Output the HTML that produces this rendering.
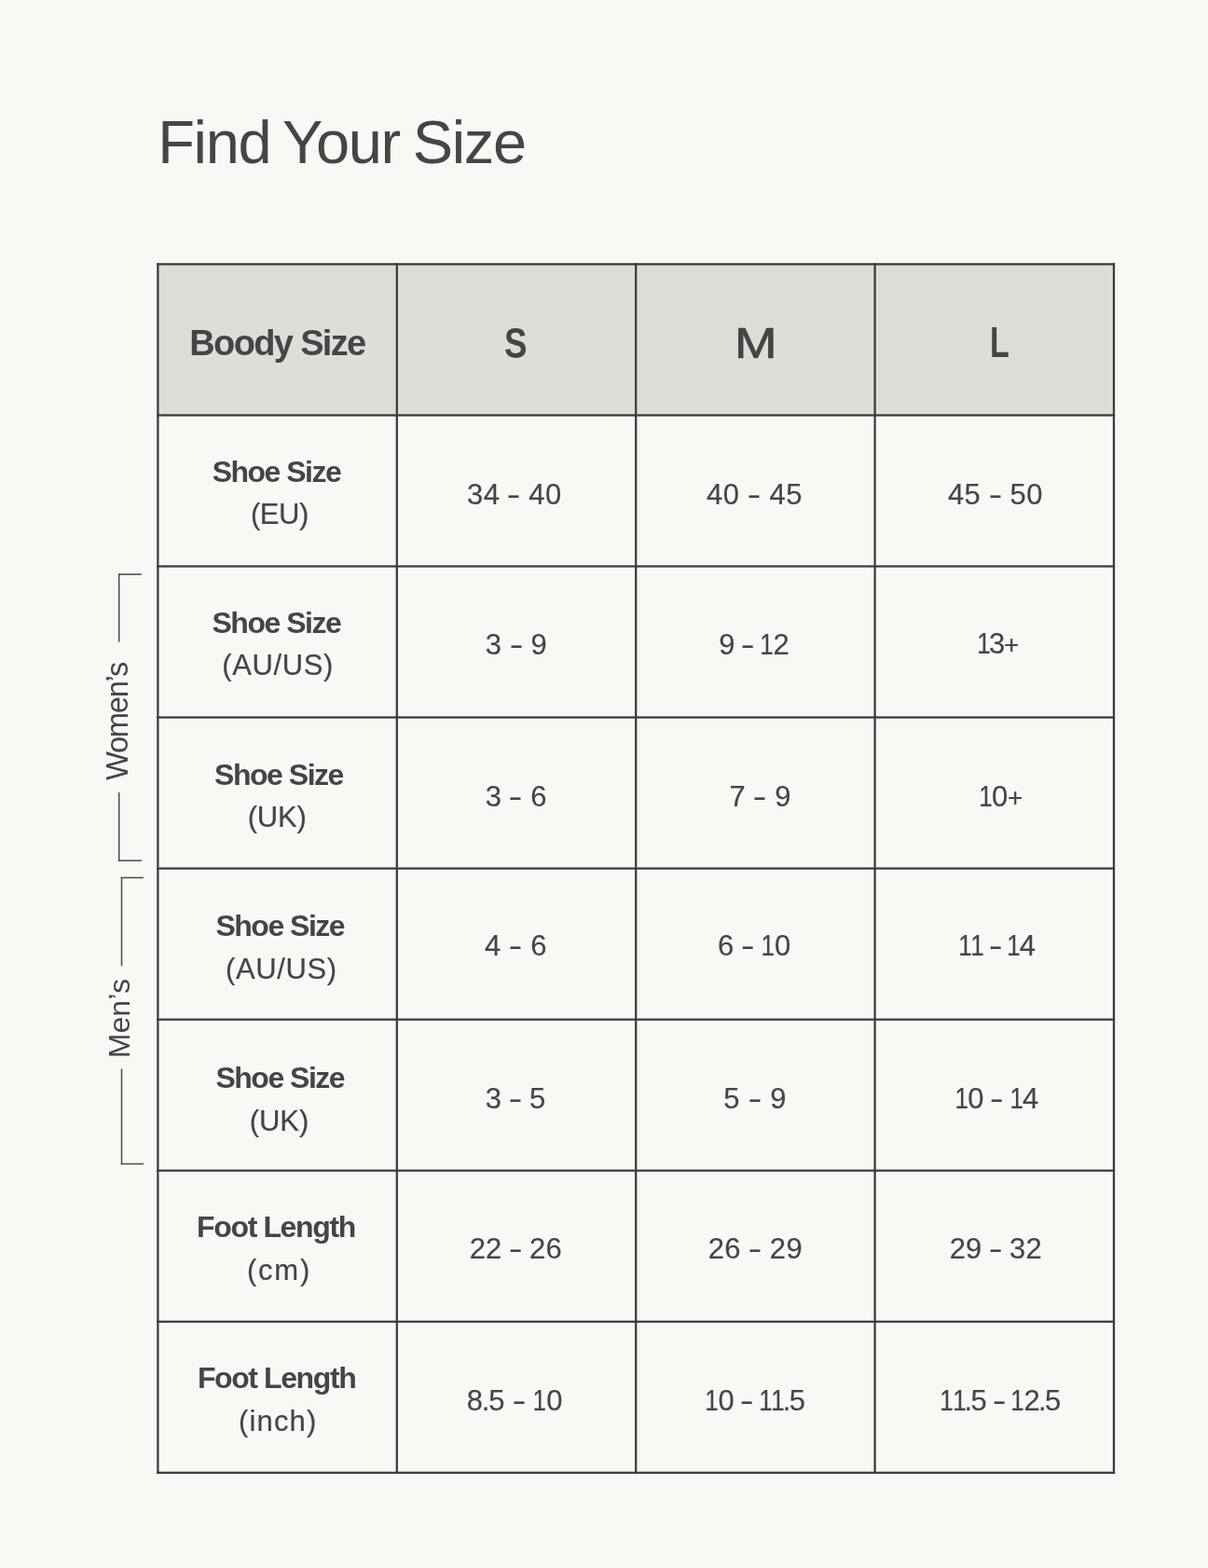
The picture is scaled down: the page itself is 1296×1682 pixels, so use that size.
<!DOCTYPE html>
<html lang="en"><head><meta charset="utf-8"><title>Find Your Size</title>
<style>
html,body{margin:0;padding:0}
body{width:1296px;height:1682px;background:#f8f8f4;position:relative;overflow:hidden;font-family:"Liberation Sans",Arial,Helvetica,sans-serif;color:#454545}
.t{position:absolute;white-space:nowrap;line-height:1;transform-origin:0 50%}
.b,.h{font-weight:700}
.m{font-weight:400;-webkit-text-stroke:0.7px #454545}
.r{-webkit-text-stroke:0.2px #454545}
.o{display:inline-block;transform:scaleX(.84);margin:0 -1.9px}
.p{font-size:.9em}
.d{margin:0 -1.5px}
.y{display:inline-block;transform:scaleX(1.4)}
.rot{position:absolute;white-space:nowrap;line-height:1;transform-origin:0 0;transform:rotate(-90deg)}

</style></head><body>
<svg width="1296" height="1682" viewBox="0 0 1296 1682" style="position:absolute;left:0;top:0">
<rect x="169.4" y="283.40" width="1025.60" height="162.05" fill="#deded8"/>
<g fill="#3a3a3a">
<rect x="168.28" y="282.27" width="2.25" height="1298.65"/>
<rect x="424.68" y="282.27" width="2.25" height="1298.65"/>
<rect x="681.08" y="282.27" width="2.25" height="1298.65"/>
<rect x="937.48" y="282.27" width="2.25" height="1298.65"/>
<rect x="1193.88" y="282.27" width="2.25" height="1298.65"/>
<rect x="168.28" y="282.27" width="1027.85" height="2.25"/>
<rect x="168.28" y="444.32" width="1027.85" height="2.25"/>
<rect x="168.28" y="606.38" width="1027.85" height="2.25"/>
<rect x="168.28" y="768.42" width="1027.85" height="2.25"/>
<rect x="168.28" y="930.48" width="1027.85" height="2.25"/>
<rect x="168.28" y="1092.53" width="1027.85" height="2.25"/>
<rect x="168.28" y="1254.58" width="1027.85" height="2.25"/>
<rect x="168.28" y="1416.62" width="1027.85" height="2.25"/>
<rect x="168.28" y="1578.68" width="1027.85" height="2.25"/>
</g>
<g fill="#4a4a48"><rect x="126.95" y="615.30" width="1.5" height="73.30"/><rect x="126.95" y="850.00" width="1.5" height="74.00"/><rect x="126.95" y="615.35" width="24.95" height="1.5"/><rect x="126.95" y="922.45" width="24.95" height="1.5"/><rect x="129.75" y="940.70" width="1.5" height="95.50"/><rect x="129.75" y="1146.50" width="1.5" height="102.80"/><rect x="129.75" y="940.75" width="24.15" height="1.5"/><rect x="129.75" y="1247.75" width="24.25" height="1.5"/></g>
</svg>
<span id="rw" class="rot" style="left:109.90px;top:837.00px;font-size:32.70px;letter-spacing:-1.300px">Women’s</span>
<span id="rm" class="rot" style="left:113.00px;top:1135.40px;font-size:31.80px;letter-spacing:0.200px">Men’s</span>
<span id="t0" class="t" style="left:169.18px;top:119.50px;font-size:65.00px;letter-spacing:-1.342px;word-spacing:-2.907px">Find Your Size</span>
<span id="t1" class="t b" style="left:203.30px;top:348.51px;font-size:38.00px;letter-spacing:-1.651px">Boody Size</span>
<span id="t2" class="t h" style="left:541.44px;top:345.51px;font-size:45.50px;transform:scaleX(0.8056)">S</span>
<span id="t3" class="t m" style="left:788.01px;top:345.51px;font-size:45.50px;transform:scaleX(1.2051)">M</span>
<span id="t4" class="t h" style="left:1062.00px;top:345.41px;font-size:45.50px;transform:scaleX(0.7480)">L</span>
<span id="t5" class="t b" style="left:227.75px;top:489.80px;font-size:32.00px;letter-spacing:-1.527px">Shoe Size</span>
<span id="t6" class="t r" style="left:269.02px;top:536.01px;font-size:31.00px;letter-spacing:-0.509px">(EU)</span>
<span id="t7" class="t r" style="left:501.00px;top:514.51px;font-size:31.00px;letter-spacing:0.390px;word-spacing:1.171px">34 <span class="y">-</span> 40</span>
<span id="t8" class="t r" style="left:757.99px;top:514.51px;font-size:31.00px;letter-spacing:0.500px;word-spacing:1.500px">40 <span class="y">-</span> 45</span>
<span id="t9" class="t r" style="left:1016.90px;top:514.51px;font-size:31.00px;letter-spacing:0.420px;word-spacing:1.261px">45 <span class="y">-</span> 50</span>
<span id="t10" class="t b" style="left:227.49px;top:652.00px;font-size:32.00px;letter-spacing:-1.478px">Shoe Size</span>
<span id="t11" class="t r" style="left:238.21px;top:697.91px;font-size:31.00px;letter-spacing:0.610px">(AU/US)</span>
<span id="t12" class="t r" style="left:520.71px;top:675.51px;font-size:31.00px;letter-spacing:0.506px;word-spacing:1.011px">3 <span class="y">-</span> 9</span>
<span id="t13" class="t r" style="left:771.23px;top:675.51px;font-size:31.00px;letter-spacing:-0.136px;word-spacing:0.371px">9 <span class="y">-</span> <span class="o">1</span>2</span>
<span id="t14" class="t r" style="left:1049.00px;top:675.10px;font-size:31.00px;letter-spacing:-1.404px"><span class="o">1</span>3<span class="p">+</span></span>
<span id="t15" class="t b" style="left:230.11px;top:814.50px;font-size:32.00px;letter-spacing:-1.487px">Shoe Size</span>
<span id="t16" class="t r" style="left:265.68px;top:860.91px;font-size:31.00px;letter-spacing:-0.155px">(UK)</span>
<span id="t17" class="t r" style="left:520.71px;top:839.21px;font-size:31.00px;letter-spacing:0.470px;word-spacing:0.940px">3 <span class="y">-</span> 6</span>
<span id="t18" class="t r" style="left:782.61px;top:839.21px;font-size:31.00px;letter-spacing:0.491px;word-spacing:0.982px">7 <span class="y">-</span> 9</span>
<span id="t19" class="t r" style="left:1051.00px;top:839.21px;font-size:31.00px;letter-spacing:-0.407px"><span class="o">1</span>0<span class="p">+</span></span>
<span id="t20" class="t b" style="left:231.49px;top:977.40px;font-size:32.00px;letter-spacing:-1.501px">Shoe Size</span>
<span id="t21" class="t r" style="left:242.02px;top:1024.21px;font-size:31.00px;letter-spacing:0.625px">(AU/US)</span>
<span id="t22" class="t r" style="left:519.99px;top:999.31px;font-size:31.00px;letter-spacing:0.552px;word-spacing:1.104px">4 <span class="y">-</span> 6</span>
<span id="t23" class="t r" style="left:770.09px;top:999.31px;font-size:31.00px;letter-spacing:0.275px;word-spacing:0.688px">6 <span class="y">-</span> <span class="o">1</span>0</span>
<span id="t24" class="t r" style="left:1028.90px;top:999.31px;font-size:31.00px;letter-spacing:-0.398px;word-spacing:-0.398px"><span class="o">1</span><span class="o">1</span> <span class="y">-</span> <span class="o">1</span>4</span>
<span id="t25" class="t b" style="left:231.49px;top:1139.50px;font-size:32.00px;letter-spacing:-1.501px">Shoe Size</span>
<span id="t26" class="t r" style="left:267.81px;top:1186.71px;font-size:31.00px;letter-spacing:-0.090px">(UK)</span>
<span id="t27" class="t r" style="left:520.71px;top:1162.61px;font-size:31.00px;letter-spacing:0.316px;word-spacing:0.632px">3 <span class="y">-</span> 5</span>
<span id="t28" class="t r" style="left:776.20px;top:1162.61px;font-size:31.00px;letter-spacing:0.651px;word-spacing:1.302px">5 <span class="y">-</span> 9</span>
<span id="t29" class="t r" style="left:1024.90px;top:1162.61px;font-size:31.00px;letter-spacing:-0.031px;word-spacing:0.218px"><span class="o">1</span>0 <span class="y">-</span> <span class="o">1</span>4</span>
<span id="t30" class="t b" style="left:211.12px;top:1300.40px;font-size:32.00px;letter-spacing:-1.370px">Foot Length</span>
<span id="t31" class="t r" style="left:264.91px;top:1347.21px;font-size:31.00px;letter-spacing:1.796px">(cm)</span>
<span id="t32" class="t r" style="left:503.63px;top:1324.31px;font-size:31.00px;letter-spacing:0.214px;word-spacing:0.642px">22 <span class="y">-</span> 26</span>
<span id="t33" class="t r" style="left:759.63px;top:1324.31px;font-size:31.00px;letter-spacing:0.379px;word-spacing:1.138px">26 <span class="y">-</span> 29</span>
<span id="t34" class="t r" style="left:1018.64px;top:1324.31px;font-size:31.00px;letter-spacing:0.207px;word-spacing:0.622px">29 <span class="y">-</span> 32</span>
<span id="t35" class="t b" style="left:211.97px;top:1461.91px;font-size:32.00px;letter-spacing:-1.412px">Foot Length</span>
<span id="t36" class="t r" style="left:256.04px;top:1509.41px;font-size:31.00px;letter-spacing:1.139px">(inch)</span>
<span id="t37" class="t r" style="left:500.72px;top:1486.81px;font-size:31.00px;letter-spacing:0.305px;word-spacing:1.067px">8<span class="d">.</span>5 <span class="y">-</span> <span class="o">1</span>0</span>
<span id="t38" class="t r" style="left:757.30px;top:1486.81px;font-size:31.00px;letter-spacing:-0.147px;word-spacing:-0.068px"><span class="o">1</span>0 <span class="y">-</span> <span class="o">1</span><span class="o">1</span><span class="d">.</span>5</span>
<span id="t39" class="t r" style="left:1009.30px;top:1486.81px;font-size:31.00px;letter-spacing:-0.150px;word-spacing:-0.250px"><span class="o">1</span><span class="o">1</span><span class="d">.</span>5 <span class="y">-</span> <span class="o">1</span>2<span class="d">.</span>5</span>
</body></html>
